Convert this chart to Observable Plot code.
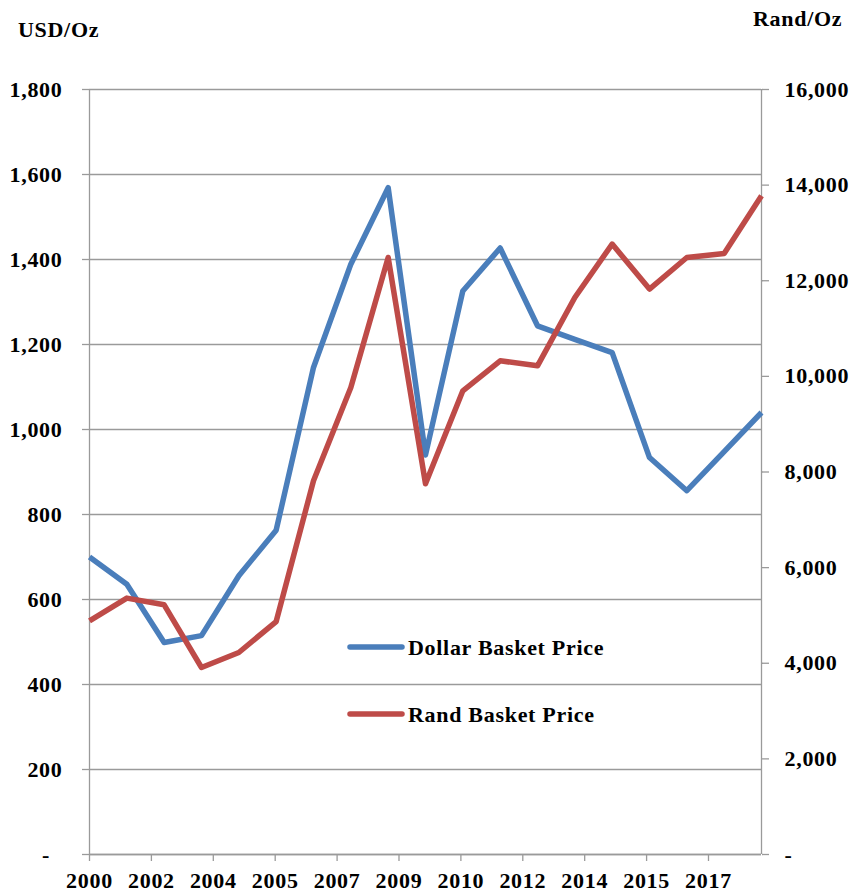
<!DOCTYPE html>
<html>
<head>
<meta charset="utf-8">
<script src="https://cdn.jsdelivr.net/npm/d3@7"></script>
<script src="https://cdn.jsdelivr.net/npm/@observablehq/plot@0.6"></script>
<style>
  html, body { margin: 0; padding: 0; background: #fff; }
  #chart { width: 858px; height: 894px; }
</style>
</head>
<body>
<div id="chart"></div>
<script>
// ---- data ----
const years = [2000, 2001, 2002, 2003, 2004, 2005, 2006, 2007, 2008, 2009, 2010, 2011, 2012, 2013, 2014, 2015, 2016, 2017, 2018];
const dollarBasket = [700, 636, 499, 515, 656, 763, 1146, 1389, 1569, 940, 1326, 1427, 1244, 1212, 1181, 934, 856, 948, 1040];
const randBasket = [4888, 5363, 5222, 3911, 4225, 4873, 7816, 9767, 12486, 7754, 9698, 10326, 10221, 11650, 12767, 11826, 12486, 12570, 13777];
const xTickLabels = ["2000", "2002", "2004", "2005", "2007", "2009", "2010", "2012", "2014", "2015", "2017"];
const xTickStep = 1.658; // Excel date-axis label spacing in years
const leftTicks = [0, 200, 400, 600, 800, 1000, 1200, 1400, 1600, 1800];
const rightTicks = [0, 2000, 4000, 6000, 8000, 10000, 12000, 14000, 16000];
const seriesNames = ["Dollar Basket Price", "Rand Basket Price"];
const colors = ["#4A7EBB", "#BE4B48"];

const leftMax = 1800, rightMax = 16000;
const k = leftMax / rightMax;

const data = years.map((y, i) => ({year: y, usd: dollarBasket[i], rand: randBasket[i] * k}));
const xTickPos = xTickLabels.map((_, i) => years[0] + i * xTickStep);
const labelByPos = new Map(xTickPos.map((p, i) => [p, xTickLabels[i]]));

const fmt = d3.format(",");
const gray = "#9a9a9a";
const font = "'Liberation Serif', 'Times New Roman', serif";

const plot = Plot.plot({
  width: 858,
  height: 894,
  marginLeft: 89,
  marginRight: 97,
  marginTop: 89,
  marginBottom: 40,
  style: {fontFamily: font, fontSize: "22px", fontWeight: "bold", color: "#000", background: "#fff", letterSpacing: "0.7px"},
  x: {domain: [years[0], years[years.length - 1]]},
  y: {domain: [0, leftMax]},
  marks: [
    Plot.gridY(leftTicks, {stroke: gray, strokeOpacity: 1, strokeWidth: 1.3}),
    Plot.ruleX([years[0]], {stroke: gray, strokeWidth: 1.3}),
    Plot.ruleX([years[years.length - 1]], {stroke: gray, strokeWidth: 1.3}),
    Plot.axisY(leftTicks, {
      anchor: "left", tickSize: 7, tickPadding: 20, stroke: gray, fill: "#000", strokeWidth: 1.3, label: null,
      tickFormat: d => d === 0 ? "-\u00a0\u00a0" : fmt(d)
    }),
    Plot.axisY(rightTicks.map(v => v * k), {
      anchor: "right", tickSize: 7, tickPadding: 16, stroke: gray, fill: "#000", strokeWidth: 1.3, label: null,
      tickFormat: d => { const v = Math.round(d / k); return v === 0 ? "-" : fmt(v); }
    }),
    Plot.axisX(xTickPos, {
      anchor: "bottom", tickSize: 7, tickPadding: 11, stroke: gray, fill: "#000", strokeWidth: 1.3, label: null,
      tickFormat: d => labelByPos.get(d)
    }),
    Plot.ruleY([0], {stroke: gray, strokeWidth: 1.3}),
    Plot.line(data, {x: "year", y: "usd", stroke: colors[0], strokeWidth: 5.5, strokeLinejoin: "round", strokeLinecap: "butt"}),
    Plot.line(data, {x: "year", y: "rand", stroke: colors[1], strokeWidth: 5.5, strokeLinejoin: "round", strokeLinecap: "butt"})
  ]
});

document.getElementById("chart").appendChild(plot);

// axis titles and legend
const svg = d3.select(plot);
const g = svg.append("g").attr("font-family", font).attr("font-weight", "bold").attr("font-size", 22)
  .attr("fill", "#000").attr("text-anchor", "start");
g.append("text").attr("x", 18).attr("y", 37).text("USD/Oz");
g.append("text").attr("x", 753).attr("y", 26).text("Rand/Oz");

const legendY = [647, 714];
seriesNames.forEach((name, i) => {
  g.append("line").attr("x1", 350).attr("x2", 402).attr("y1", legendY[i]).attr("y2", legendY[i])
    .attr("stroke", colors[i]).attr("stroke-width", 5.5).attr("stroke-linecap", "round");
  g.append("text").attr("x", 408).attr("y", legendY[i] + 8).text(name);
});
</script>
</body>
</html>
